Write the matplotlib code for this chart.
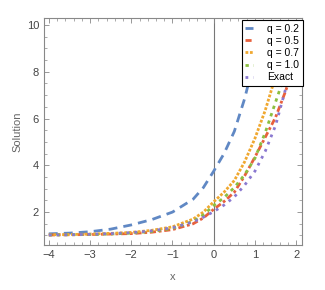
import matplotlib
matplotlib.use('Agg')
import matplotlib.pyplot as plt
from matplotlib.ticker import MultipleLocator
from matplotlib.lines import Line2D

plt.rcParams['font.family'] = ['Liberation Sans Narrow', 'Liberation Sans', 'DejaVu Sans']

# values (each curve stops where it disappears behind the legend)
x_vals = [-4.0, -3.5, -3.0, -2.5, -2.0, -1.5, -1.0, -0.5, -0.25, 0.0,
          0.25, 0.5, 0.75, 1.0, 1.25, 1.5, 1.75, 2.0, 2.15]

q02 = [1.07, 1.10, 1.16, 1.27, 1.45, 1.68, 2.00, 2.55, 3.05, 3.75,
       4.50, 5.45, 6.85, 8.60]
q05 = [1.02, 1.03, 1.04, 1.06, 1.08, 1.14, 1.25, 1.50, 1.75, 2.12,
       2.45, 2.85, 3.55, 4.35, 5.20, 6.05, 7.20, 8.60, 9.50]
q07 = [1.03, 1.04, 1.06, 1.09, 1.13, 1.22, 1.37, 1.70, 2.00, 2.44,
       2.85, 3.35, 4.15, 5.15, 6.35, 7.80, 9.50]
q10 = [1.02, 1.03, 1.04, 1.06, 1.10, 1.17, 1.30, 1.60, 1.88, 2.28,
       2.62, 3.05, 3.60, 4.30, 5.40, 6.70, 8.00, 9.60]
exact = [1.02, 1.03, 1.05, 1.08, 1.12, 1.20, 1.33, 1.58, 1.78, 2.02,
         2.30, 2.65, 3.15, 3.75, 4.60, 5.70, 7.30, 9.00, 9.90]

labels = ['q = 0.2', 'q = 0.5', 'q = 0.7', 'q = 1.0', 'Exact']
colors = ['#6088C4', '#E8603C', '#F0A830', '#8CBF40', '#8A78D0']
dashes = [(3.2, 2.2), (2.2, 1.0, 1.0, 1.0), (1.0, 0.6), (1.2, 1.6), (1.0, 1.8)]
series = [q02, q05, q07, q10, exact]

fig = plt.figure(figsize=(3.25, 2.9), dpi=100)
ax = fig.add_axes([0.135, 0.155, 0.794, 0.783])

ax.axvline(0, color='#777777', lw=0.8, zorder=1)

for ys, c, d in zip(series, colors, dashes):
    ax.plot(x_vals[:len(ys)], ys, color=c, lw=2.0, dashes=d, zorder=3)

ax.set_xlim(-4.12, 2.14)
ax.set_ylim(0.59, 10.3)
ax.xaxis.set_major_locator(MultipleLocator(1))
ax.xaxis.set_minor_locator(MultipleLocator(0.2))
ax.yaxis.set_major_locator(MultipleLocator(2))
ax.yaxis.set_minor_locator(MultipleLocator(0.5))
ax.set_yticks([2, 4, 6, 8, 10])

ax.tick_params(which='both', direction='in', top=True, right=True,
               color='#888888', labelsize=8, labelcolor='#444444')
ax.tick_params(which='major', length=3.5, width=0.6)
ax.tick_params(which='minor', length=2, width=0.5)
ax.tick_params(top=True, right=True, labeltop=False, labelright=False)
for sp in ax.spines.values():
    sp.set_color('#888888')
    sp.set_linewidth(0.8)

ax.set_xlabel('x', fontsize=8, color='#666666', labelpad=9)
ax.set_ylabel('Solution', fontsize=8, color='#666666', labelpad=3)

handles = [Line2D([], [], color=c, lw=2.0, dashes=d) for c, d in zip(colors, dashes)]
leg = ax.legend(handles, labels, loc='upper right', bbox_to_anchor=(1.004, 0.99),
                fontsize=7.5, handlelength=0.7, handletextpad=1.4, labelspacing=0.2,
                borderpad=0.35, borderaxespad=0.0, fancybox=False, framealpha=1.0,
                edgecolor='black')
leg.get_frame().set_linewidth(0.8)
leg.set_zorder(5)

fig.savefig('out.png', dpi=100)
